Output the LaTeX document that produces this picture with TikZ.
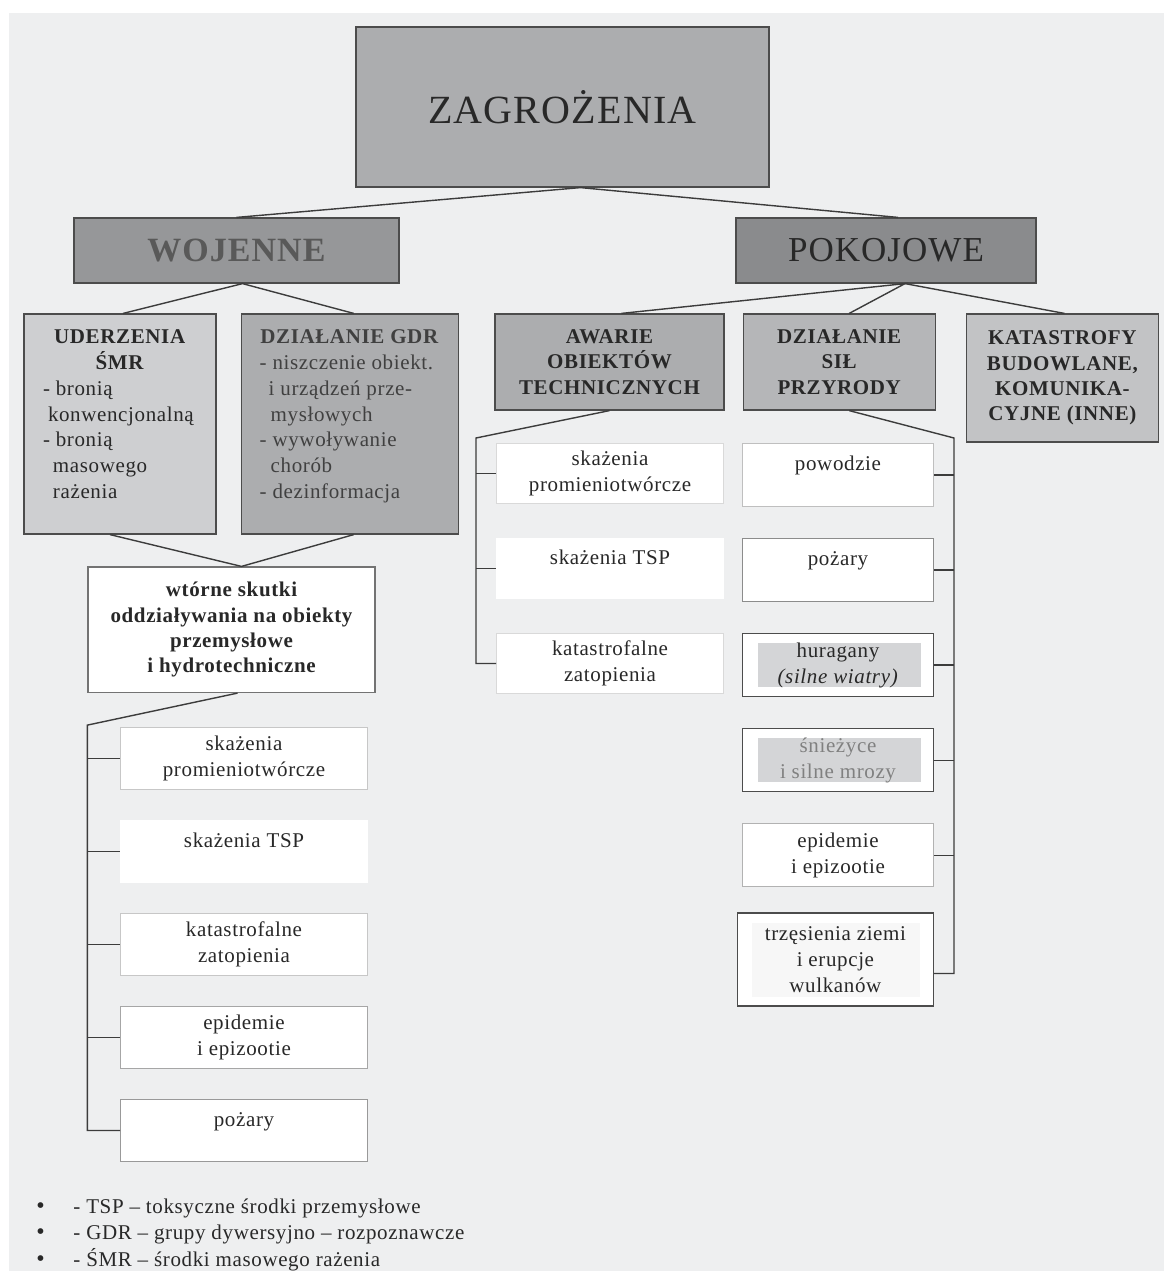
\documentclass[tikz,border=0pt]{standalone}
\usepackage{fontspec}
\setmainfont{Liberation Serif}[LetterSpace=3]
\usetikzlibrary{positioning}
\definecolor{bgcol}{RGB}{238,239,240}
\definecolor{linecol}{RGB}{60,60,60}
\definecolor{txtcol}{RGB}{40,40,40}
\definecolor{topfill}{RGB}{172,173,175}
\definecolor{catfill}{RGB}{150,151,153}
\definecolor{lightfill}{RGB}{206,207,209}
\definecolor{sfill}{RGB}{181,182,184}
\definecolor{kfill}{RGB}{194,195,197}
\definecolor{hlfill}{RGB}{212,213,215}
\newcommand{\bodyline}[2]{\makebox[#1][l]{#2}}

\begin{document}
\begin{tikzpicture}[x=0.5pt, y=-0.5pt,
		box/.style={rectangle, draw=black!70, line width=0.6pt, inner sep=2pt, align=center, text=txtcol},
		topbox/.style={box, fill=topfill, minimum width=206.5pt, minimum height=80pt, font=\fontsize{20}{24}\selectfont},
		catbox/.style={box, fill=catfill, minimum height=32.5pt, font=\fontsize{17.5}{21}\selectfont},
		grpbox/.style={box, font=\fontsize{10.5}{12.6}\selectfont\bfseries},
		listbox/.style={box, fill=white, draw=black!22, line width=0.5pt, font=\fontsize{10.5}{12.9}\selectfont},
		llist/.style={listbox, minimum width=123.5pt, minimum height=31pt},
		mlist/.style={listbox, minimum width=113.5pt, minimum height=30pt},
		rlist/.style={listbox, minimum width=95.5pt, minimum height=31.5pt},
		oneline/.style={text height=7.5pt, text depth=12pt},
		dark/.style={draw=black!70, line width=0.6pt},
		innerfill/.style={path picture={\fill[#1] ([shift={(7.5pt,-4.75pt)}]path picture bounding box.north west) rectangle ([shift={(-6.5pt,4.75pt)}]path picture bounding box.south east);}},
		bodytxt/.style={align=center, inner sep=0pt, text=txtcol, font=\fontsize{10.5}{12.9}\selectfont},
		legend/.style={inner sep=0pt, text=txtcol, font=\fontsize{10.5}{12.6}\selectfont},
		conn/.style={draw=linecol, line width=0.7pt}
	]

	\useasboundingbox (0,0) rectangle (1164,1271);
	\fill[bgcol] (9,13) rectangle (1164,1271);

	% top levels
	\node[topbox] (zagr) at (562.5,107) {ZAGROŻENIA};
	\node[catbox, minimum width=162.5pt, text=black!65, font=\fontsize{17}{20}\selectfont\bfseries] (woj) at (236.5,250.5) {WOJENNE};
	\node[catbox, minimum width=150pt, fill=catfill!92!black] (pok) at (886,250.5) {POKOJOWE};

	\node[grpbox, fill=lightfill, minimum width=96pt, minimum height=110pt] (uder) at (120,424) {};
	\node[grpbox, fill=topfill, minimum width=108.5pt, minimum height=110pt, right=12pt of uder] (gdr) {};
	\node[bodytxt, anchor=north] (udertxt) at ([yshift=-8pt]uder.north) {\textbf{UDERZENIA}\\\textbf{ŚMR}\\
		\bodyline{77pt}{- bronią}\\\bodyline{77pt}{\hspace*{2.5pt}konwencjonalną}\\\bodyline{77pt}{- bronią}\\
		\bodyline{77pt}{\hspace*{5pt}masowego}\\\bodyline{77pt}{\hspace*{5pt}rażenia}};
	\node[bodytxt, anchor=north, text=black!75] (gdrtxt) at ([yshift=-8pt]gdr.north) {\textbf{DZIAŁANIE GDR}\\
		\bodyline{90pt}{- niszczenie obiekt.}\\\bodyline{90pt}{\hspace*{4.5pt}i urządzeń prze-}\\\bodyline{90pt}{\hspace*{5.5pt}mysłowych}\\
		\bodyline{90pt}{- wywoływanie}\\\bodyline{90pt}{\hspace*{5.5pt}chorób}\\\bodyline{90pt}{- dezinformacja}};

	\node[grpbox, fill=topfill, minimum width=114.5pt, minimum height=48pt] (awarie) at (609.5,362) {AWARIE\\OBIEKTÓW\\TECHNICZNYCH};
	\node[grpbox, fill=sfill, minimum width=96pt, minimum height=48pt, right=9pt of awarie] (sily) {DZIAŁANIE\\SIŁ\\PRZYRODY};
	\node[grpbox, fill=kfill, minimum width=96pt, minimum height=64pt, anchor=north west] (kat) at ([xshift=15pt]sily.north east) {KATASTROFY\\BUDOWLANE,\\KOMUNIKA-\\CYJNE (INNE)};

	\node[box, fill=white, draw=black!55, minimum width=143.5pt, minimum height=62.75pt, font=\fontsize{10.5}{12.6}\selectfont\bfseries] (wtorne) at (231.5,629.75) {wtórne skutki\\oddziaływania na obiekty\\przemysłowe\\i hydrotechniczne};

	% left list
	\node[llist, anchor=north west] (l1) at (120,727) {skażenia\\promieniotwórcze};
	\node[llist, oneline, draw=white, below=15pt of l1] (l2) {skażenia TSP};
	\node[llist, below=15pt of l2] (l3) {katastrofalne\\zatopienia};
	\node[llist, draw=black!35, below=15pt of l3] (l4) {epidemie\\i epizootie};
	\node[llist, oneline, draw=black!40, below=15pt of l4] (l5) {pożary};

	% middle list
	\node[mlist, draw=black!15, anchor=north west] (m1) at (496,443) {skażenia\\promieniotwórcze};
	\node[mlist, oneline, draw=white, below=17pt of m1] (m2) {skażenia TSP};
	\node[mlist, draw=black!15, below=17pt of m2] (m3) {katastrofalne\\zatopienia};

	% right list
	\node[rlist, oneline, draw=black!25, anchor=north west] (r1) at (742,443) {powodzie};
	\node[rlist, oneline, draw=black!45, below=15.5pt of r1] (r2) {pożary};
	\node[rlist, dark, innerfill=hlfill, below=15.5pt of r2] (r3) {huragany\\\textit{(silne wiatry)}};
	\node[rlist, dark, innerfill=hlfill, text=black!50, below=15.5pt of r3] (r4) {śnieżyce\\i silne mrozy};
	\node[rlist, draw=black!30, below=15.5pt of r4] (r5) {epidemie\\i epizootie};
	\node[rlist, dark, innerfill=black!3, minimum width=98pt, minimum height=46.5pt, anchor=north east] (r6) at ([yshift=-12.5pt]r5.south east) {trzęsienia ziemi\\i erupcje\\wulkanów};

	% connectors
	\draw[conn] (woj.north) -- ([xshift=9pt]zagr.south) -- ([xshift=6pt]pok.north);
	\draw[conn] ([xshift=1.5pt]uder.north) -- ([xshift=3pt]woj.south) -- ([xshift=2pt]gdr.north);
	\draw[conn] ([xshift=6pt]awarie.north) -- ([xshift=9.5pt]pok.south) -- ([xshift=5pt]sily.north);
	\draw[conn] ([xshift=9.5pt]pok.south) -- ([xshift=1pt]kat.north);
	\draw[conn] ([xshift=-5pt]uder.south) -- ([xshift=5pt]wtorne.north) -- ([xshift=2pt]gdr.south);

	\coordinate (lc) at ([yshift=-16pt]wtorne.south west);
	\draw[conn] ([xshift=3pt]wtorne.south) -- (lc) |- (l5.west);
	\foreach \i in {1,...,4}
		\draw[conn] (lc |- l\i.west) -- (l\i.west);

	\coordinate (mc) at ([shift={(-10pt,2.5pt)}]m1.north west);
	\draw[conn] (awarie.south) -- (mc) |- (m3.west);
	\foreach \i in {1,2}
		\draw[conn] (mc |- m\i.west) -- (m\i.west);

	\coordinate (rc) at ([shift={(10pt,2.5pt)}]r1.north east);
	\draw[conn] ([xshift=5pt]sily.south) -- (rc) |- ([yshift=-7pt]r6.east);
	\foreach \i in {1,...,5}
		\draw[conn] (rc |- r\i.east) -- (r\i.east);

	% legend
	\foreach \txt [count=\i] in {{- TSP – toksyczne środki przemysłowe}, {- GDR – grupy dywersyjno – rozpoznawcze}, {- ŚMR – środki masowego rażenia}}
		\node[legend, anchor=west] (leg\i) at (36,1182+26*\i) {\makebox[18.5pt][l]{\fontsize{12}{12}\selectfont\textbullet}\txt};

\end{tikzpicture}
\end{document}
